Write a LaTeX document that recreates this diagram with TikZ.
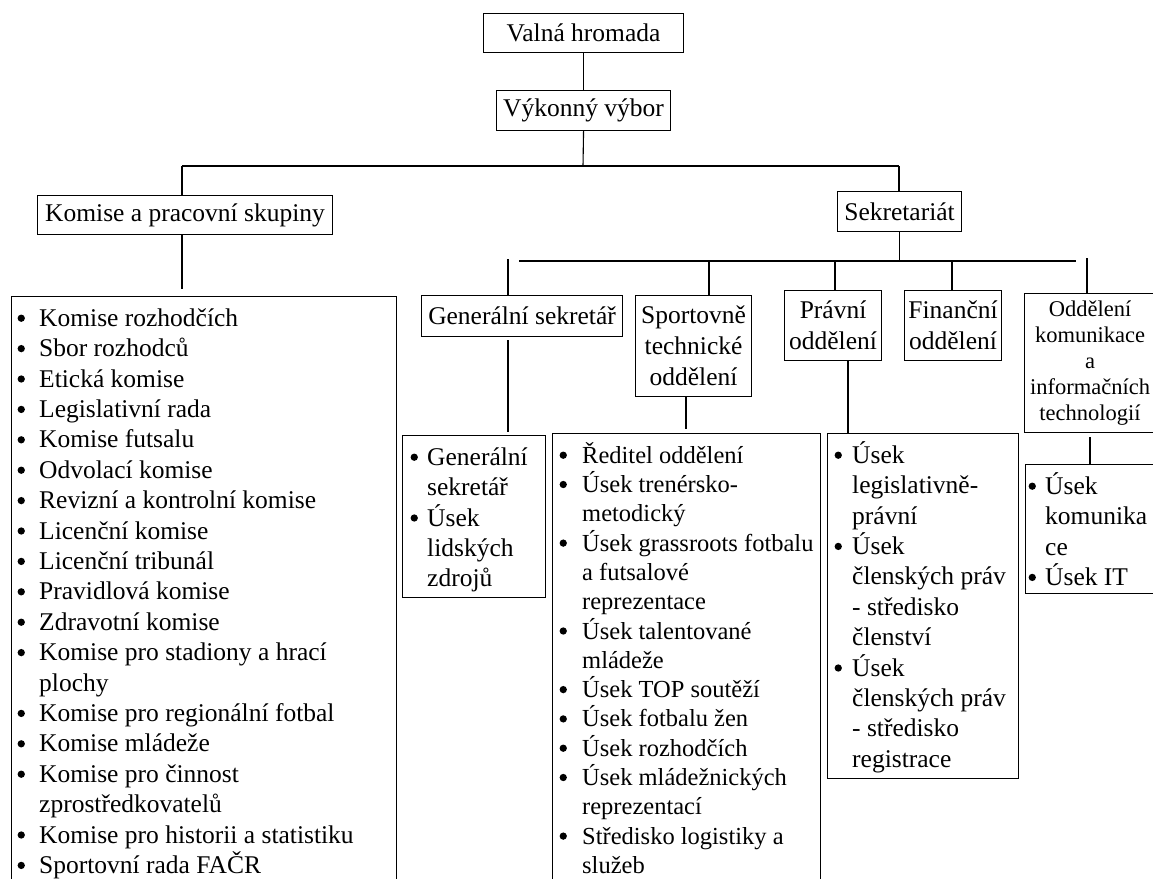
\documentclass[tikz,border=0pt]{standalone}
\usepackage{fontspec}
\setmainfont{Liberation Serif}
\newcommand{\bdot}{\tikz[baseline=0pt]\fill[black] (3.65pt,8pt) circle[radius=3.65pt];}
\newcommand{\bitem}[2][22]{\makebox[#1pt][l]{\bdot}#2}
\newcommand{\bcont}[2][22]{\hspace*{#1pt}#2}
\newcommand{\fstrut}{\rule{0pt}{26pt}}
\begin{document}
\begin{tikzpicture}[x=1pt,y=-1pt,
  bx/.style={draw, line width=1.1pt, inner sep=0pt, anchor=north west, align=center, font=\fontsize{25.5}{31}\selectfont},
  lbox/.style={draw, line width=1.1pt, inner sep=0pt, anchor=north west},
  ltext/.style={inner sep=0pt, anchor=north west, align=left, font=\fontsize{25.5}{30.4}\selectfont},
  conn/.style={draw, line width=1.1pt}]
\useasboundingbox (0,0) rectangle (1153,878);
\fill[white] (0,0) rectangle (1153,878);

% title boxes
\node[bx, minimum width=200pt, minimum height=39pt] (vh) at (483,13) {Valná hromada};
\node[bx, minimum width=174pt, minimum height=40pt] (vv) at (496,90) {Výkonný výbor};
\node[bx, minimum width=295pt, minimum height=39pt] (kom) at (37,195) {Komise a pracovní skupiny};
\node[bx, minimum width=124pt, minimum height=40pt] (sek) at (837,191) {Sekretariát};
\node[bx, minimum width=201pt, minimum height=41pt] (gs) at (421,295) {Generální sekretář};
\node[bx, minimum width=116pt, minimum height=101pt] (st) at (635,295) {Sportovně\\technické\\oddělení};
\node[bx, minimum width=97pt, minimum height=70pt] (pr) at (784,290) {Právní\\oddělení};
\node[bx, minimum width=97pt, minimum height=70pt] (fi) at (904,290) {Finanční\\oddělení};
\node[bx, minimum width=131pt, minimum height=139pt, font=\fontsize{22.5}{26}\selectfont] (od) at (1024,293) {Oddělení\\komunikace\\a\\informačních\\technologií};

% list boxes
\node[lbox, minimum width=385pt, minimum height=620pt] (kl) at (11,296) {};
\node[ltext] (klt) at (17.4,300) {\fstrut\bitem[21.6]{Komise rozhodčích}\\
\bitem[21.6]{Sbor rozhodců}\\
\bitem[21.6]{Etická komise}\\
\bitem[21.6]{Legislativní rada}\\
\bitem[21.6]{Komise futsalu}\\
\bitem[21.6]{Odvolací komise}\\
\bitem[21.6]{Revizní a kontrolní komise}\\
\bitem[21.6]{Licenční komise}\\
\bitem[21.6]{Licenční tribunál}\\
\bitem[21.6]{Pravidlová komise}\\
\bitem[21.6]{Zdravotní komise}\\
\bitem[21.6]{Komise pro stadiony a hrací}\\
\bcont[21.6]{plochy}\\
\bitem[21.6]{Komise pro regionální fotbal}\\
\bitem[21.6]{Komise mládeže}\\
\bitem[21.6]{Komise pro činnost}\\
\bcont[21.6]{zprostředkovatelů}\\
\bitem[21.6]{Komise pro historii a statistiku}\\
\bitem[21.6]{Sportovní rada FAČR}};

\node[lbox, minimum width=143pt, minimum height=162pt] (gl) at (402,435) {};
\node[ltext] (glt) at (410.4,439) {\fstrut\bitem[16.6]{Generální}\\
\bcont[16.6]{sekretář}\\
\bitem[16.6]{Úsek}\\
\bcont[16.6]{lidských}\\
\bcont[16.6]{zdrojů}};

\node[lbox, minimum width=268pt, minimum height=500pt] (sl) at (552,433) {};
\node[ltext, font=\fontsize{24.5}{29.3}\selectfont] (slt) at (559.4,437) {\fstrut\bitem[22.6]{Ředitel oddělení}\\
\bitem[22.6]{Úsek trenérsko-}\\
\bcont[22.6]{metodický}\\
\bitem[22.6]{Úsek grassroots fotbalu}\\
\bcont[22.6]{a futsalové}\\
\bcont[22.6]{reprezentace}\\
\bitem[22.6]{Úsek talentované}\\
\bcont[22.6]{mládeže}\\
\bitem[22.6]{Úsek TOP soutěží}\\
\bitem[22.6]{Úsek fotbalu žen}\\
\bitem[22.6]{Úsek rozhodčích}\\
\bitem[22.6]{Úsek mládežnických}\\
\bcont[22.6]{reprezentací}\\
\bitem[22.6]{Středisko logistiky a}\\
\bcont[22.6]{služeb}};

\node[lbox, minimum width=191pt, minimum height=345pt] (pl) at (827,433) {};
\node[ltext] (plt) at (834.4,437) {\fstrut\bitem[17.6]{Úsek}\\
\bcont[17.6]{legislativně-}\\
\bcont[17.6]{právní}\\
\bitem[17.6]{Úsek}\\
\bcont[17.6]{členských práv}\\
\bcont[17.6]{- středisko}\\
\bcont[17.6]{členství}\\
\bitem[17.6]{Úsek}\\
\bcont[17.6]{členských práv}\\
\bcont[17.6]{- středisko}\\
\bcont[17.6]{registrace}};

\node[lbox, minimum width=150pt, minimum height=129pt] (ol) at (1025,464) {};
\node[ltext] (olt) at (1028.4,468) {\fstrut\bitem[16.6]{Úsek}\\
\bcont[16.6]{komunika}\\
\bcont[16.6]{ce}\\
\bitem[16.6]{Úsek IT}};

% bus coordinates
\coordinate (busA) at (583,166);
\coordinate (busL) at (182,166);
\coordinate (busR) at (899,166);
\coordinate (b2L) at (519,261);
\coordinate (b2R) at (1076,261);
\coordinate (gsT) at (508,259);
\coordinate (stT) at (709,261);
\coordinate (prT) at (835,261);
\coordinate (fiT) at (952,261);
\coordinate (odT) at (1087,258);
\coordinate (stx) at (686,396);
\coordinate (prx) at (848,360);
\coordinate (odx) at (1090,432);

% connectors
\draw[conn] (vh.south) -- (vv.north);
\draw[conn] (vv.south) -- (busA);
\draw[conn] (busL) -- (busR);
\draw[conn] (busL) -- (busL |- kom.north);
\draw[conn] (busR) -- (busR |- sek.north);
\draw[conn, shorten >=7pt] (busL |- kom.south) -- (busL |- kl.north);
\draw[conn] (sek.south) -- (sek.south |- b2L);
\draw[conn] (b2L) -- (b2R);
\draw[conn] (gsT) -- (gsT |- gs.north);
\draw[conn] (stT) -- (stT |- st.north);
\draw[conn] (prT) -- (prT |- pr.north);
\draw[conn] (fiT) -- (fiT |- fi.north);
\draw[conn] (odT) -- (odT |- od.north);
\draw[conn, shorten <=3pt, shorten >=3pt] (gsT |- gs.south) -- (gsT |- gl.north);
\draw[conn, shorten >=4pt] (stx) -- (stx |- sl.north);
\draw[conn] (prx) -- (prx |- pl.north);
\draw[conn, shorten <=5pt] (odx) -- (odx |- ol.north);
\end{tikzpicture}
\end{document}
